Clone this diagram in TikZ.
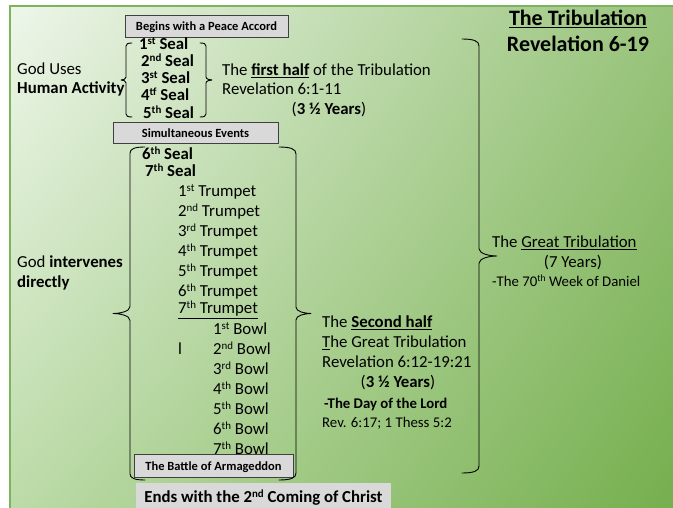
\documentclass[tikz,border=0pt]{standalone}
\usepackage{fontspec}
\setmainfont{Carlito}
\usepackage{tikz}
\usetikzlibrary{positioning, calc, shadings}
\definecolor{paleleaf}{HTML}{EEF6EA}
\definecolor{midleaf}{HTML}{99C47C}
\definecolor{softleaf}{HTML}{BCDBA8}
\definecolor{deepleaf}{HTML}{76AF4E}
\definecolor{frameleaf}{HTML}{7CB45C}
\tikzstyle{Brace} = [
%Thin black bracket line:
black, line width=0.9pt, line join=round, line cap=round
]
% small raised ordinal letters
\newcommand{\ordmark}[1]{\raisebox{0.32em}{\scalebox{0.65}{#1}}}
% spine x, top y, bottom y, hook dx, tip dx
\newcommand{\sidebrace}[5]{%
  \pgfmathsetmacro{\bmid}{(#2+#3)/2}%
  \pgfmathsetmacro{\bhk}{abs(#4)*0.35+1}%
  \pgfmathsetmacro{\btp}{abs(#5)*0.35+1}%
  \draw[Brace] ({#1+(#4)},#2) .. controls ({#1+0.3*(#4)},#2) and (#1,{#2+0.3*\bhk}) .. (#1,{#2+\bhk})
    -- (#1,{\bmid-\btp}) .. controls (#1,{\bmid-0.3*\btp}) and ({#1+0.6*(#5)},\bmid) .. ({#1+(#5)},\bmid)
    .. controls ({#1+0.6*(#5)},\bmid) and (#1,{\bmid+0.3*\btp}) .. (#1,{\bmid+\btp})
    -- (#1,{#3-\bhk}) .. controls (#1,{#3-0.3*\bhk}) and ({#1+0.3*(#4)},#3) .. ({#1+(#4)},#3);
}

\begin{document}
\begin{tikzpicture}[x=1pt, y=-1pt,
			entry/.style = {inner sep=0pt, anchor=west, text height=0.94em, text depth=0pt, font=\fontsize{16.8}{20}\selectfont},
			strong/.style = {entry, font=\fontsize{16.8}{20}\selectfont\bfseries},
			note/.style = {entry, font=\fontsize{14.8}{18}\selectfont},
			heading/.style = {inner sep=0pt, text height=0.94em, text depth=0pt, font=\fontsize{22}{26}\selectfont\bfseries},
			banner/.style = {rectangle, draw=black!75, fill=black!15, line width=0.8pt, inner sep=0pt, text height=0.94em, text depth=0pt, font=\fontsize{12.5}{15}\selectfont\bfseries},
		]
		\useasboundingbox (0,0) rectangle (673,508);
		\shade[upper left=paleleaf, upper right=midleaf, lower left=softleaf, lower right=deepleaf] (10,6) rectangle (673,508);
		\draw[frameleaf, line width=1.2pt] (673,6) -- (10,6) -- (10,508);

		% title
		\node[heading] (title) at (578,21) {\underline{The Tribulation}};
		\node[heading] (reference) at (578,47) {Revelation 6-19};

		% left notes
		\node[entry] (uses) at (17,70) {God Uses};
		\node[strong] (human) at (17,89) {Human Activity};
		\node[entry] (intervenes) at (17,263) {God \textbf{intervenes}};
		\node[strong] (directly) at (17,283) {directly};

		% first half
		\node[banner, minimum width=163pt, minimum height=22pt] (accord) at (206.5,26) {Begins with a Peace Accord};
		\foreach \n/\s/\x/\y [count=\i] in {1/st/139/45, 2/nd/141/62, 3/st/141/79, 4/tf/141/96, 5/th/143/114}
			\node[strong] (seal\i) at (\x,\y) {\n\ordmark{\s} Seal};
		\node[entry] (firsthalf) at (222,71) {The \underline{\textbf{first half}} of the Tribulation};
		\node[entry] (rev1) at (222,90) {Revelation 6:1-11};
		\node[entry, anchor=center] (years1) at (329,110) {(\textbf{3 ½ Years})};
		\node[banner, minimum width=165pt, minimum height=21pt] (simul) at (195.5,132.5) {Simultaneous Events};

		% second half
		\node[strong] (seal6) at (142,155) {6\ordmark{th} Seal};
		\node[strong] (seal7) at (145,172) {7\ordmark{th} Seal};
		\foreach \n/\s [count=\i] in {1/st,2/nd,3/rd,4/th,5/th,6/th}
			\node[entry] (trumpet\i) at (178,172+20*\i) {\n\ordmark{\s} Trumpet};
		\node[entry] (trumpet7) at (178,309) {\underline{7\ordmark{th} Trumpet}};
		\node[entry, anchor=center] (stray) at (180,350) {l};
		\foreach \n/\s [count=\i] in {1/st,2/nd,3/rd,4/th,5/th,6/th,7/th}
			\node[entry] (bowl\i) at (213,310+20*\i) {\n\ordmark{\s} Bowl};
		\node[banner, minimum width=159pt, minimum height=23pt] (battle) at (213.5,465.5) {The Battle of Armageddon};
		\fill[black!15] (136,483) rectangle (391,508);
		\node[strong, anchor=center] (coming) at (263.5,498) {Ends with the 2\ordmark{nd} Coming of Christ};

		\node[entry] (secondhalf) at (322,323) {The \underline{\textbf{Second half}}};
		\node[entry] (great2) at (322,343) {\underline{T}he Great Tribulation};
		\node[entry] (rev2) at (322,363) {Revelation 6:12-19:21};
		\node[entry, anchor=center] (years2) at (398,383) {(\textbf{3 ½ Years})};
		\node[note, font=\fontsize{14.8}{18}\selectfont\bfseries] (lordday) at (324,404) {-The Day of the Lord};
		\node[note] (thess) at (322,423) {Rev. 6:17; 1 Thess 5:2};

		% whole span
		\node[entry] (great) at (492,243) {The \underline{Great Tribulation}};
		\node[entry, anchor=center] (seven) at (573,263) {(7 Years)};
		\node[note] (daniel) at (492,282) {-The 70\ordmark{th} Week of Daniel};

		% brackets
		\sidebrace{126}{43}{117}{6}{-5}
		\sidebrace{206}{43}{117}{-6}{6}
		\sidebrace{130}{147}{480}{15}{-17}
		\sidebrace{296}{147}{480}{-17}{15}
		\sidebrace{479}{39}{473}{-17}{18}
	\end{tikzpicture}
\end{document}
